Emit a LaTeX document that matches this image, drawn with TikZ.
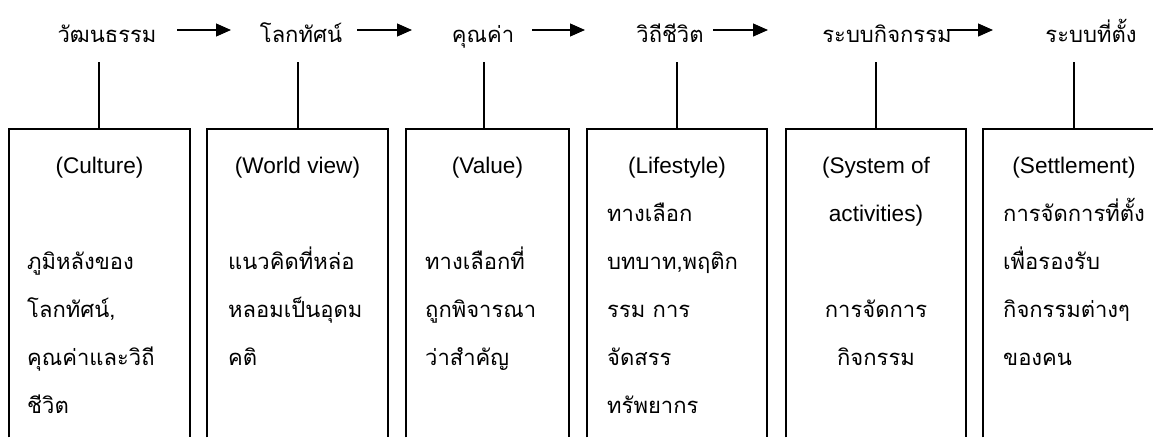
\documentclass[tikz,border=0pt]{standalone}
\usepackage{fontspec}
\setmainfont{Liberation Sans}
\newfontfamily\thaifont[Script=Thai]{Loma}
\usepackage{tikz}
\usetikzlibrary{arrows.meta}
\usetikzlibrary{positioning}

\tikzset{
    stage/.style={font=\thaifont\fontsize{22}{48}\selectfont, anchor=base, inner sep=0pt},
    title/.style={font=\fontsize{22.6}{48}\selectfont, align=center, anchor=base, inner sep=0pt},
    body/.style={font=\thaifont\fontsize{22}{48}\selectfont, align=left, anchor=base west, inner sep=0pt},
    boxarea/.style={minimum height=308pt, inner sep=0pt, anchor=north},
    flow/.style={-{Triangle[length=15pt,width=13pt]}, line width=1.2pt},
    link/.style={line width=1.6pt}
}

\begin{document}
\begin{tikzpicture}[x=1pt, y=-1pt]
            \useasboundingbox (0, 0) rectangle (1153, 437);

            % stages along the top
            \node[stage] (s1) at (107, 42) {วัฒนธรรม};
            \node[stage] (s2) at (301, 42) {โลกทัศน์};
            \node[stage] (s3) at (483, 42) {คุณค่า};
            \node[stage] (s4) at (670, 42) {วิถีชีวิต};
            \node[stage] (s5) at (887, 42) {ระบบกิจกรรม};
            \node[stage] (s6) at (1091, 42) {ระบบที่ตั้ง};

            % arrows between the stages
            \foreach \i/\from/\to in {1/177/231, 2/357/412, 3/532/585, 4/713/768, 5/947/993} {
                \coordinate (a\i) at (\from, 30);
                \coordinate (e\i) at (\to, 30);
                \draw[flow] (a\i) -- (e\i);
            }

            % boxes, open at the bottom, with a line up to each stage
            \foreach \i/\cx/\w/\lx in {1/99.5/181/99, 2/297.5/181/298, 3/487.5/163/484,
                                        4/677/180/677, 5/876/180/876, 6/1074/182/1074} {
                \node[boxarea, minimum width=\w pt] (b\i) at (\cx, 129) {};
                \draw[link] (b\i.south west) |- (b\i.north east) -- (b\i.south east);
                \coordinate (t\i) at (\lx, 62);
                \draw[link] (t\i) -- (t\i |- b\i.north);
            }

            % base of a multi-line text is its last line
            \node[title] (n1) at (99.5, 173) {(Culture)};
            \node[title] (n2) at (297.5, 173) {(World view)};
            \node[title] (n3) at (487.5, 173) {(Value)};
            \node[title] (n4) at (677, 173) {(Lifestyle)};
            \node[title] (n5) at (876, 221) {(System of\\activities)};
            \node[title] (n6) at (1074, 173) {(Settlement)};

            \node[body] (d1) at (27, 413) {ภูมิหลังของ\\โลกทัศน์,\\คุณค่าและวิถี\\ชีวิต};
            \node[body] (d2) at (228, 365) {แนวคิดที่หล่อ\\หลอมเป็นอุดม\\คติ};
            \node[body] (d3) at (425, 365) {ทางเลือกที่\\ถูกพิจารณา\\ว่าสำคัญ};
            \node[body] (d4) at (607, 413) {ทางเลือก\\บทบาท,พฤติก\\รรม การ\\จัดสรร\\ทรัพยากร};
            \node[body, align=center, anchor=base] (d5) at (876, 365) {การจัดการ\\กิจกรรม};
            \node[body] (d6) at (1003, 365) {การจัดการที่ตั้ง\\เพื่อรองรับ\\กิจกรรมต่างๆ\\ของคน};
        \end{tikzpicture}
\end{document}
